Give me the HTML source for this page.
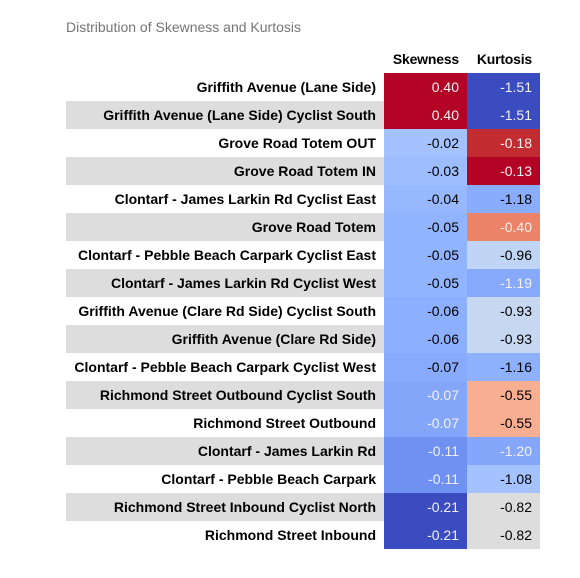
<!DOCTYPE html>
<html lang="en">
<head>
<meta charset="utf-8">
<title>Distribution of Skewness and Kurtosis</title>
<style>
html,body{margin:0;padding:0;background:#fff;}
body{width:580px;height:578px;overflow:hidden;position:relative;font-family:"Liberation Sans",Arial,sans-serif;}
#title{position:absolute;left:66px;top:19px;font-size:14px;line-height:16px;color:#757575;white-space:nowrap;}
#chart{position:absolute;left:0;top:0;width:580px;height:578px;}
.c{position:absolute;box-sizing:border-box;height:28px;line-height:28px;font-size:14px;text-align:right;padding-right:8px;white-space:nowrap;}
.lab{left:66px;width:318px;font-weight:bold;color:#000;}
.hd{font-weight:bold;color:#000;letter-spacing:-0.2px;}
.sk{left:384px;width:83px;}
.ku{left:467px;width:73px;}
</style>
</head>
<body>
<div id="title">Distribution of Skewness and Kurtosis</div>
<div id="chart"></div>
<script>
const stations = [
  "Griffith Avenue (Lane Side)",
  "Griffith Avenue (Lane Side) Cyclist South",
  "Grove Road Totem OUT",
  "Grove Road Totem IN",
  "Clontarf - James Larkin Rd Cyclist East",
  "Grove Road Totem",
  "Clontarf - Pebble Beach Carpark Cyclist East",
  "Clontarf - James Larkin Rd Cyclist West",
  "Griffith Avenue (Clare Rd Side) Cyclist South",
  "Griffith Avenue (Clare Rd Side)",
  "Clontarf - Pebble Beach Carpark Cyclist West",
  "Richmond Street Outbound Cyclist South",
  "Richmond Street Outbound",
  "Clontarf - James Larkin Rd",
  "Clontarf - Pebble Beach Carpark",
  "Richmond Street Inbound Cyclist North",
  "Richmond Street Inbound"
];
const skewness = [0.40,0.40,-0.02,-0.03,-0.04,-0.05,-0.05,-0.05,-0.06,-0.06,-0.066,-0.074,-0.074,-0.11,-0.11,-0.21,-0.21];
const kurtosis = [-1.51,-1.51,-0.18,-0.13,-1.18,-0.40,-0.96,-1.194,-0.93,-0.93,-1.16,-0.55,-0.55,-1.20,-1.08,-0.82,-0.82];
const headers = ["Skewness","Kurtosis"];

const colormap = [[59,76,192],[68,90,204],[77,104,215],[87,117,225],[98,130,234],[108,142,241],[119,154,247],[130,165,251],[141,176,254],[152,185,255],[163,194,255],[174,201,253],[184,208,249],[194,213,244],[204,217,238],[213,219,230],[221,221,221],[229,216,209],[236,211,197],[241,204,185],[245,196,173],[247,187,160],[247,177,148],[247,166,135],[244,154,123],[241,141,111],[236,127,99],[229,112,88],[222,96,77],[213,80,66],[203,62,56],[192,40,47],[180,4,38]];

function colorAt(t){
  const p = Math.max(0,Math.min(1,t))*(colormap.length-1);
  const i = Math.min(Math.floor(p),colormap.length-2);
  const f = p-i;
  return colormap[i].map((v,k)=>Math.round(v+(colormap[i+1][k]-v)*f));
}
function luminance(rgb){
  const l = rgb.map(v=>{const s=v/255;return s<=0.03928?s/12.92:Math.pow((s+0.055)/1.055,2.4);});
  return 0.2126*l[0]+0.7152*l[1]+0.0722*l[2];
}
const TOP = 73, ROW_H = 28;
function rowY(i){return TOP+i*ROW_H;}
const chart = document.getElementById('chart');

function addCell(cls,y,text){
  const el = document.createElement('div');
  el.className = 'c '+cls;
  el.style.top = y+'px';
  el.textContent = text;
  chart.appendChild(el);
  return el;
}

const hSk = addCell('hd sk',45,headers[0]);


const hKu = addCell('hd ku',45,headers[1]);



function styleValue(el,v,min,max){
  const rgb = colorAt((v-min)/(max-min));
  el.style.background = 'rgb('+rgb.join(',')+')';
  el.style.color = luminance(rgb)<0.408 ? '#f1f1f1' : '#000';
}
const skMin = Math.min(...skewness), skMax = Math.max(...skewness);
const kuMin = Math.min(...kurtosis), kuMax = Math.max(...kurtosis);

stations.forEach((name,i)=>{
  const y = rowY(i);
  const lab = addCell('lab',y,name);
  lab.style.background = i%2 ? '#dddddd' : '#ffffff';
  
  
  const sk = addCell('sk',y,skewness[i].toFixed(2));
  styleValue(sk,skewness[i],skMin,skMax);
  
  
  const ku = addCell('ku',y,kurtosis[i].toFixed(2));
  styleValue(ku,kurtosis[i],kuMin,kuMax);
  
  
});
</script>
</body>
</html>
